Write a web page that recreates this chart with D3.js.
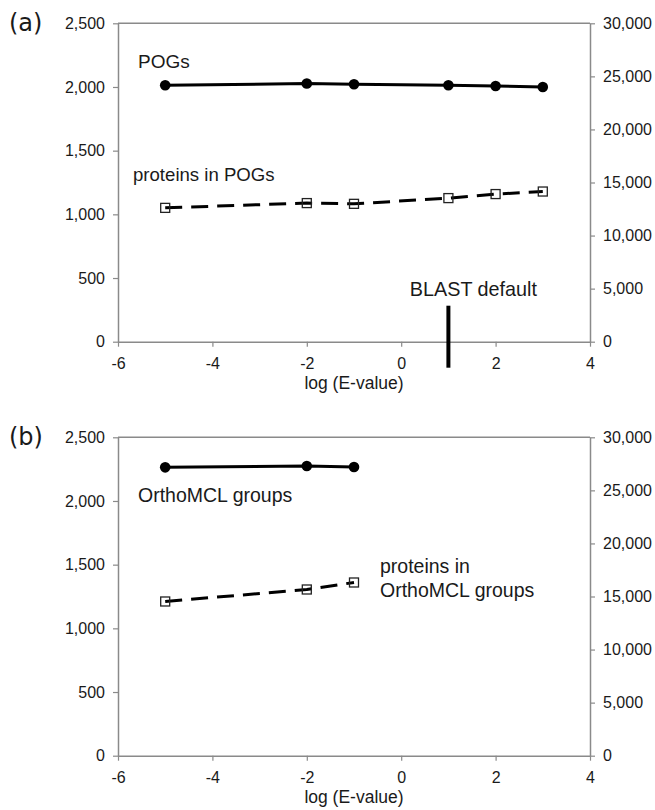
<!DOCTYPE html>
<html>
<head>
<meta charset="utf-8">
<script src="https://cdn.jsdelivr.net/npm/d3@7"></script>
<style>
  html, body { margin: 0; padding: 0; background: #fff; }
  svg { display: block; }
</style>
</head>
<body>
<svg id="chart" width="655" height="810"></svg>
<script>
// ---------- data ----------
const xTicks = [-6, -4, -2, 0, 2, 4];
const leftTicks = [0, 500, 1000, 1500, 2000, 2500];
const rightTicks = [0, 5000, 10000, 15000, 20000, 25000, 30000];

// panel (a)
const pogX = [-5, -2, -1, 1, 2, 3];
const pogGroups = [2013, 2027, 2021, 2013, 2008, 2000];          // left axis
const pogProteins = [12610, 13060, 12990, 13530, 13910, 14150];  // right axis
const blastDefault = 1;

// panel (b)
const mclX = [-5, -2, -1];
const mclGroups = [2264, 2275, 2267];        // left axis
const mclProteins = [14530, 15660, 16320];   // right axis

// ---------- layout ----------
const FONT = "'Liberation Sans', Arial, sans-serif";
const svg = d3.select("#chart");
const W = 472, H = 318.4, LEFT = 118;
const panels = [
  { top: 23.3, tag: "(a)", tagY: 31, xs: pogX, groups: pogGroups, proteins: pogProteins, blast: true },
  { top: 437.3, tag: "(b)", tagY: 445, xs: mclX, groups: mclGroups, proteins: mclProteins, blast: false }
];

const axisGrey = "#8a8a8a";
const txt = (sel, size) => sel.style("font-family", FONT).style("font-size", size).style("fill", "#1a1a1a");

panels.forEach((p) => {
  const g = svg.append("g").attr("transform", `translate(${LEFT},${p.top})`);
  const x = d3.scaleLinear().domain([-6, 4]).range([0, W]);
  const yL = d3.scaleLinear().domain([0, 2500]).range([H, 0]);
  const yR = d3.scaleLinear().domain([0, 30000]).range([H, 0]);

  // top border
  g.append("line").attr("x1", 0).attr("x2", W).attr("y1", 0).attr("y2", 0)
    .attr("stroke", axisGrey).attr("stroke-width", 1.5);

  const styleAxis = sel => {
    sel.selectAll("path.domain").attr("stroke", axisGrey).attr("stroke-width", 1.5);
    sel.selectAll(".tick line").attr("stroke", axisGrey).attr("stroke-width", 1.2);
    txt(sel.selectAll(".tick text"), "16px");
  };

  g.append("g").call(d3.axisLeft(yL).tickValues(leftTicks).tickFormat(d3.format(","))
      .tickSizeInner(5).tickSizeOuter(0).tickPadding(8)).call(styleAxis);
  g.append("g").attr("transform", `translate(${W},0)`)
    .call(d3.axisRight(yR).tickValues(rightTicks).tickFormat(d3.format(","))
      .tickSizeInner(5).tickSizeOuter(0).tickPadding(8)).call(styleAxis);
  g.append("g").attr("transform", `translate(0,${H})`)
    .call(d3.axisBottom(x).tickValues(xTicks).tickFormat(d => String(d))
      .tickSizeInner(5).tickSizeOuter(0).tickPadding(11)).call(styleAxis);

  // x axis title
  txt(g.append("text").attr("x", W / 2).attr("y", H + 47).attr("text-anchor", "middle"), "17.5px")
    .text("log (E-value)");

  // panel tag
  svg.append("text").attr("x", 9).attr("y", p.tagY)
    .style("font-family", "'DejaVu Sans', Verdana, sans-serif").style("font-size", "24px")
    .style("fill", "#1a1a1a").text(p.tag);

  // groups line (solid, circles)
  const gData = p.xs.map((v, k) => ({ x: v, y: p.groups[k] }));
  g.append("path").datum(gData)
    .attr("fill", "none").attr("stroke", "#000").attr("stroke-width", 3)
    .attr("d", d3.line().x(d => x(d.x)).y(d => yL(d.y)));
  g.selectAll(null).data(gData).enter().append("circle")
    .attr("cx", d => x(d.x)).attr("cy", d => yL(d.y)).attr("r", 5.3).attr("fill", "#000");

  // proteins line (dashed, open squares)
  const pData = p.xs.map((v, k) => ({ x: v, y: p.proteins[k] }));
  g.append("path").datum(pData)
    .attr("fill", "none").attr("stroke", "#000").attr("stroke-width", 3)
    .attr("stroke-dasharray", "17,9")
    .attr("d", d3.line().x(d => x(d.x)).y(d => yR(d.y)));
  g.selectAll(null).data(pData).enter().append("rect")
    .attr("x", d => x(d.x) - 4.5).attr("y", d => yR(d.y) - 4.5)
    .attr("width", 9).attr("height", 9)
    .attr("fill", "none").attr("stroke", "#222").attr("stroke-width", 1.3);

  if (p.blast) {
    g.append("line").attr("x1", x(blastDefault)).attr("x2", x(blastDefault))
      .attr("y1", H - 36).attr("y2", H + 26)
      .attr("stroke", "#000").attr("stroke-width", 4);
    txt(g.append("text").attr("x", x(blastDefault) + 25).attr("y", H - 46)
      .attr("text-anchor", "middle"), "19.8px").text("BLAST default");
    txt(g.append("text").attr("x", 20).attr("y", 45), "19px").text("POGs");
    txt(g.append("text").attr("x", 15).attr("y", 158), "18.6px").text("proteins in POGs");
  } else {
    txt(g.append("text").attr("x", 20).attr("y", 64.5), "19.5px").text("OrthoMCL groups");
    const t = txt(g.append("text").attr("x", 262).attr("y", 136), "19.5px");
    t.append("tspan").attr("x", 262).attr("dy", 0).text("proteins in");
    t.append("tspan").attr("x", 262).attr("dy", 24).text("OrthoMCL groups");
  }
});
</script>
</body>
</html>
